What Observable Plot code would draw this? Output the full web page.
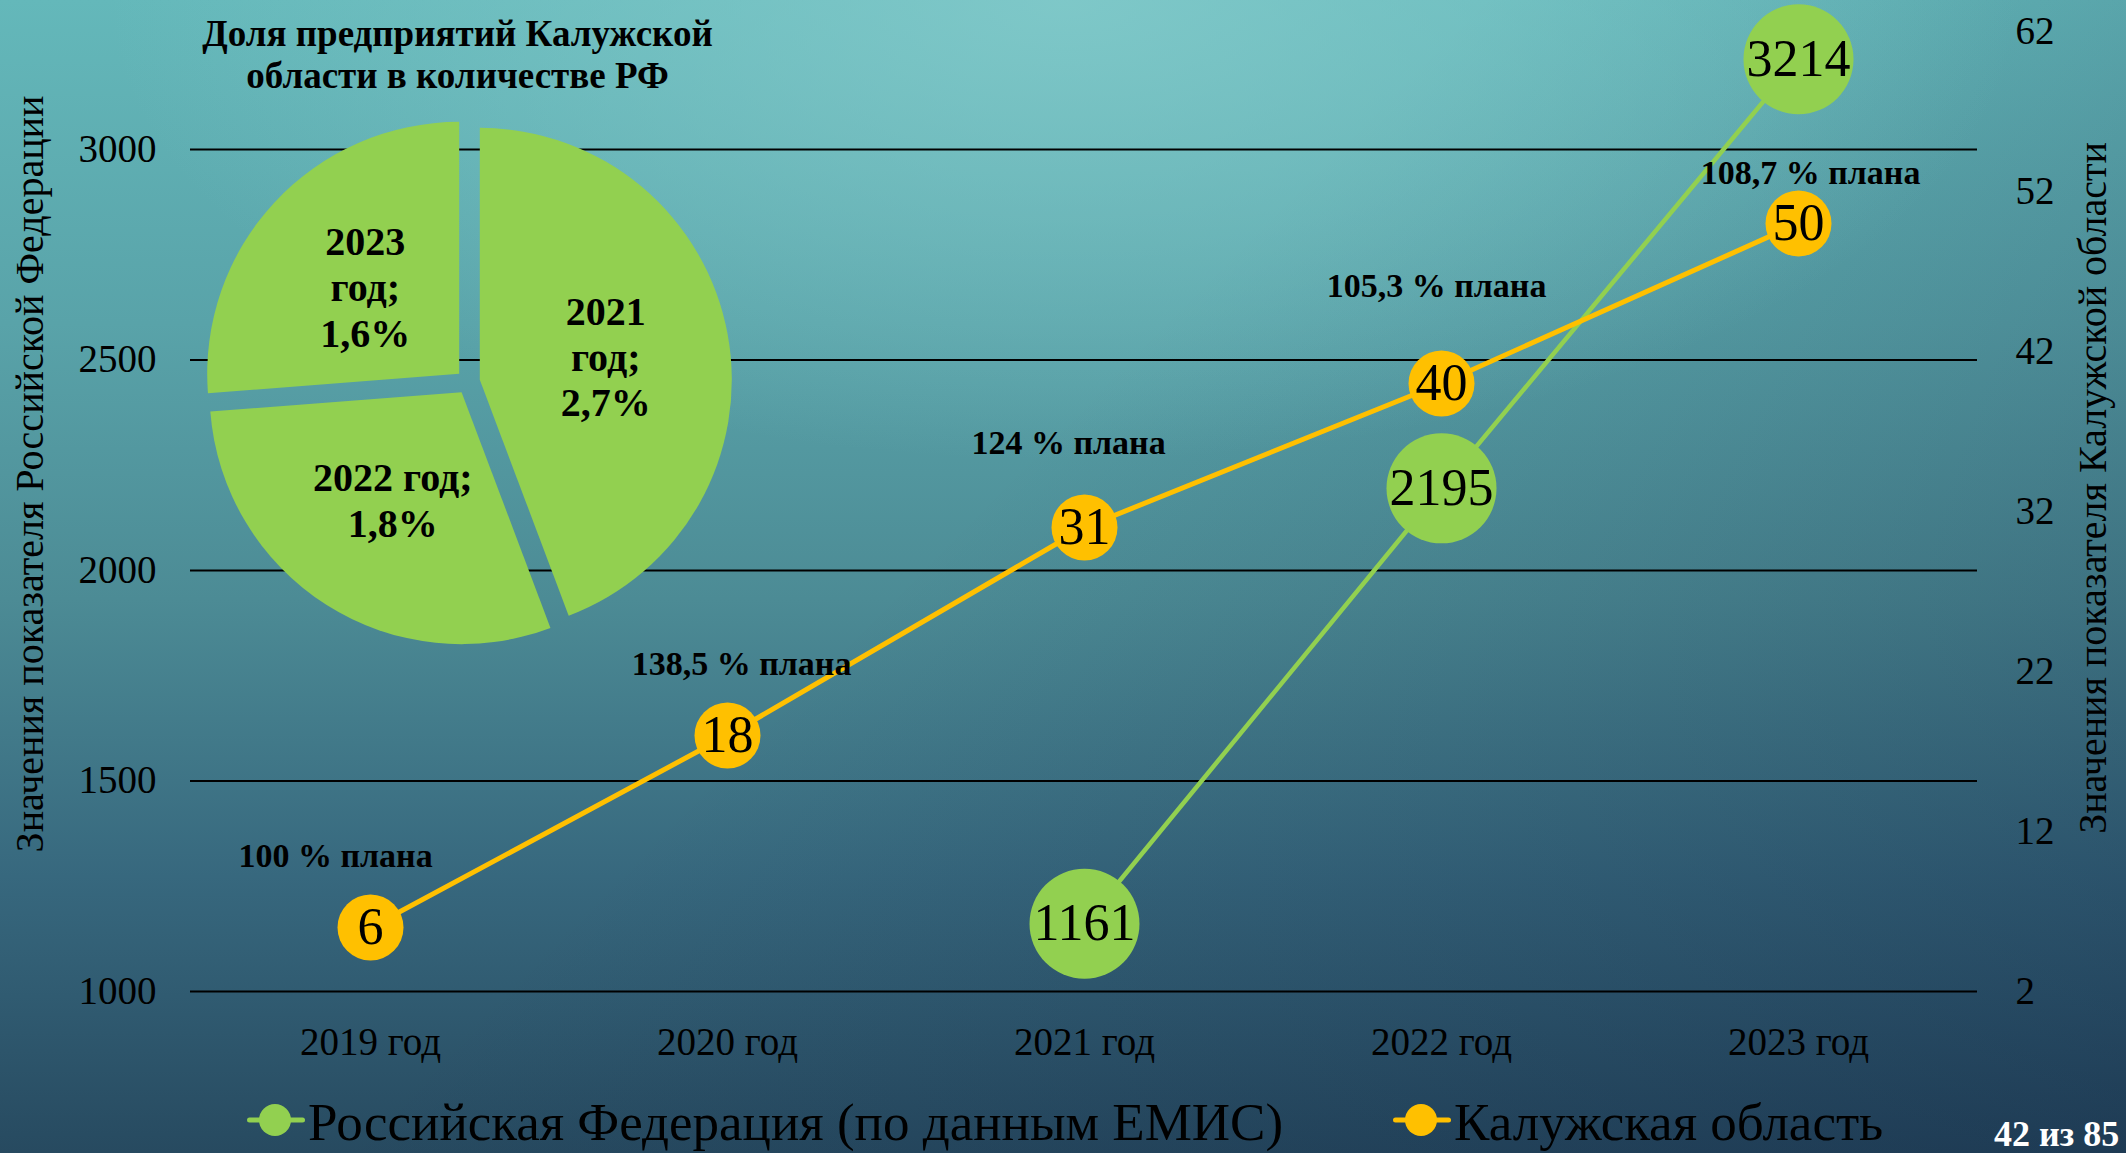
<!DOCTYPE html>
<html>
<head>
<meta charset="utf-8">
<script src="https://cdn.jsdelivr.net/npm/d3@7"></script>
<script src="https://cdn.jsdelivr.net/npm/@observablehq/plot@0.6"></script>
<style>
  html, body { margin: 0; padding: 0; }
  body {
    width: 2126px; height: 1153px; overflow: hidden; position: relative;
    font-family: "Liberation Serif", "Times New Roman", serif;
    background:
      radial-gradient(ellipse 45% 40% at 50% 0%, rgba(135,205,205,0.75), rgba(135,205,205,0) 100%),
      linear-gradient(135deg, rgba(0,0,0,0) 45%, rgba(12,28,60,0.33) 100%),
      linear-gradient(to bottom, #64b8ba 0%, #59a3a9 28%, #4c8b95 52%, #37687e 76%, #274a60 100%);
  }
  #chart { position: absolute; left: 0; top: 0; }
  #chart svg, #chart svg text, #chart svg g { font-family: "Liberation Serif", "Times New Roman", serif !important; font-variant: normal !important; }
  #legend {
    position: absolute; left: 0; top: 1080px; width: 2126px; height: 84px;
    display: flex; align-items: center; padding-left: 247px; box-sizing: border-box; gap: 110px;
  }
  .item { display: flex; align-items: center; }
  .item span { font-size: 53px; line-height: 53px; color: #000; white-space: nowrap; }
  .item svg { display: block; margin-right: 3px; margin-top: -4px; }
  #page {
    position: absolute; left: 1994px; top: 1122px; font-size: 36px; line-height: 24px;
    font-weight: bold; color: #fff; white-space: nowrap;
  }
</style>
</head>
<body>
<div id="chart"></div>
<div id="legend"></div>
<div id="page">42 из 85</div>
<script>
// ---------- data ----------
const years = ["2019 год", "2020 год", "2021 год", "2022 год", "2023 год"];
const rfValues = [null, null, 1161, 2195, 3214];
const kalugaValues = [6, 18, 31, 40, 50];
const planLabels = ["100 % плана", "138,5 % плана", "124 % плана", "105,3 % плана", "108,7 % плана"];
const leftTicks = [1000, 1500, 2000, 2500, 3000];
const rightTicks = [2, 12, 22, 32, 42, 52, 62];
const seriesNames = ["Российская Федерация (по данным ЕМИС)", "Калужская область"];
const leftTitle = "Значения показателя Российской Федерации";
const rightTitle = "Значения показателя Калужской области";
const pieTitle = "Доля предприятий Калужской\nобласти в количестве РФ";
const pieYears = ["2021", "2022", "2023"];
const pieShares = [2.7, 1.8, 1.6];

// ---------- style / layout ----------
const GREEN = "#92D050", YELLOW = "#FFC000";
const SERIF = "'Liberation Serif', 'Times New Roman', serif";
const W = 2126, H = 1080;
const LEFT_DOMAIN = [1000, 3280], RIGHT_DOMAIN = [2, 62];
const toLeft = r => LEFT_DOMAIN[0] + (r - RIGHT_DOMAIN[0]) * (LEFT_DOMAIN[1] - LEFT_DOMAIN[0]) / (RIGHT_DOMAIN[1] - RIGHT_DOMAIN[0]);
const fromLeft = v => RIGHT_DOMAIN[0] + (v - LEFT_DOMAIN[0]) * (RIGHT_DOMAIN[1] - RIGHT_DOMAIN[0]) / (LEFT_DOMAIN[1] - LEFT_DOMAIN[0]);
const planOffsets = [[-35, -71], [14, -71], [-16, -84], [-5, -97], [12, -50]];
const PIE = {cx: 468, cy: 382, r: 252, labelR: 128, explode: 12, fontSize: 40, lineH: 46};
const TITLES = [{text: leftTitle, x: 29, y: 474}, {text: rightTitle, x: 2092, y: 488}];

const rf = years.map((year, i) => ({year, v: rfValues[i]})).filter(d => d.v != null);
const kl = years.map((year, i) => ({year, v: kalugaValues[i], yl: toLeft(kalugaValues[i]), plan: planLabels[i]}));

const fmtPct = v => String(v).replace(".", ",") + "%";
const pieLabelLines = pieYears.map((y, i) =>
  i === 1 ? [y + " год;", fmtPct(pieShares[i])] : [y, "год;", fmtPct(pieShares[i])]);

function pieMark() {
  const g = d3.create("svg:g");
  const arcs = d3.pie().sort(null).value(d => d)(pieShares);
  const arc = d3.arc().innerRadius(0).outerRadius(PIE.r);
  const labelArc = d3.arc().innerRadius(PIE.labelR).outerRadius(PIE.labelR);
  arcs.forEach((a, i) => {
    const mid = (a.startAngle + a.endAngle) / 2;
    const ox = PIE.cx + PIE.explode * Math.sin(mid);
    const oy = PIE.cy - PIE.explode * Math.cos(mid);
    const gi = g.append("g").attr("transform", `translate(${ox},${oy})`);
    gi.append("path").attr("d", arc(a)).attr("fill", GREEN);
    const [lx, ly] = labelArc.centroid(a);
    const lines = pieLabelLines[i];
    const t = gi.append("text")
      .attr("text-anchor", "middle")
      .attr("font-weight", "bold")
      .attr("font-size", PIE.fontSize)
      .attr("font-family", SERIF)
      .attr("fill", "#000");
    const y0 = ly - (lines.length - 1) * PIE.lineH / 2;
    lines.forEach((ln, j) => {
      t.append("tspan").attr("x", lx).attr("y", y0 + j * PIE.lineH).attr("dy", "0.34em").text(ln);
    });
  });
  return g.node();
}

function axisTitles() {
  const g = d3.create("svg:g");
  TITLES.forEach(d => {
    g.append("text")
      .attr("transform", `translate(${d.x},${d.y}) rotate(-90)`)
      .attr("text-anchor", "middle")
      .attr("dy", "0.34em")
      .attr("font-size", 40)
      .attr("font-family", SERIF)
      .attr("fill", "#000")
      .text(d.text);
  });
  return g.node();
}

const marks = [
  Plot.gridY(leftTicks, {stroke: "#000", strokeOpacity: 1, strokeWidth: 2}),
  Plot.axisY(leftTicks, {anchor: "left", tickSize: 0, tickPadding: 34, fontSize: 39, label: null,
    fontFamily: SERIF, fontVariant: "normal", tickFormat: d => String(d)}),
  Plot.axisY(rightTicks.map(toLeft), {anchor: "right", tickSize: 0, tickPadding: 38, fontSize: 39, label: null,
    fontFamily: SERIF, fontVariant: "normal", tickFormat: d => String(Math.round(fromLeft(d)))}),
  Plot.axisX({tickSize: 0, tickPadding: 36, fontSize: 39, label: null, fontFamily: SERIF, fontVariant: "normal"}),
  axisTitles,
  pieMark,
  Plot.text([pieTitle], {text: d => d, frameAnchor: "top-left", textAnchor: "middle", dx: 267, dy: -15,
    lineAnchor: "top", fontSize: 37, fontWeight: "bold", lineHeight: 42 / 37, fill: "#000", fontFamily: SERIF}),
  Plot.line(rf, {x: "year", y: "v", stroke: GREEN, strokeWidth: 4.5}),
  Plot.line(kl, {x: "year", y: "yl", stroke: YELLOW, strokeWidth: 5}),
  Plot.dot(rf, {x: "year", y: "v", r: 55, fill: GREEN}),
  Plot.dot(kl, {x: "year", y: "yl", r: 33, fill: YELLOW}),
  Plot.text(rf, {x: "year", y: "v", text: d => String(d.v), fontSize: 52, fill: "#000", fontFamily: SERIF}),
  Plot.text(kl, {x: "year", y: "yl", text: d => String(d.v), fontSize: 52, fill: "#000", fontFamily: SERIF}),
  ...kl.map((d, i) => Plot.text([d], {x: "year", y: "yl", text: "plan", dx: planOffsets[i][0], dy: planOffsets[i][1],
    fontSize: 34, fontWeight: "bold", fill: "#000", fontFamily: SERIF}))
];

const chart = Plot.plot({
  width: W, height: H,
  marginLeft: 190, marginRight: 149, marginTop: 31, marginBottom: 89,
  style: {background: "transparent", color: "#000", fontFamily: SERIF, overflow: "visible", maxWidth: "none"},
  x: {type: "point", domain: years, padding: 0.5, align: 0.5},
  y: {domain: LEFT_DOMAIN},
  marks
});
document.getElementById("chart").appendChild(chart);

// ---------- legend ----------
const legendColors = [GREEN, YELLOW];
const legend = d3.select("#legend");
seriesNames.forEach((name, i) => {
  const item = legend.append("div").attr("class", "item");
  const sw = item.append("svg").attr("width", 58).attr("height", 40);
  sw.append("line").attr("x1", 2.5).attr("x2", 55.5).attr("y1", 20).attr("y2", 20)
    .attr("stroke", legendColors[i]).attr("stroke-width", 5).attr("stroke-linecap", "round");
  sw.append("circle").attr("cx", 28).attr("cy", 20).attr("r", 16).attr("fill", legendColors[i]);
  item.append("span").text(name);
});
</script>
</body>
</html>
